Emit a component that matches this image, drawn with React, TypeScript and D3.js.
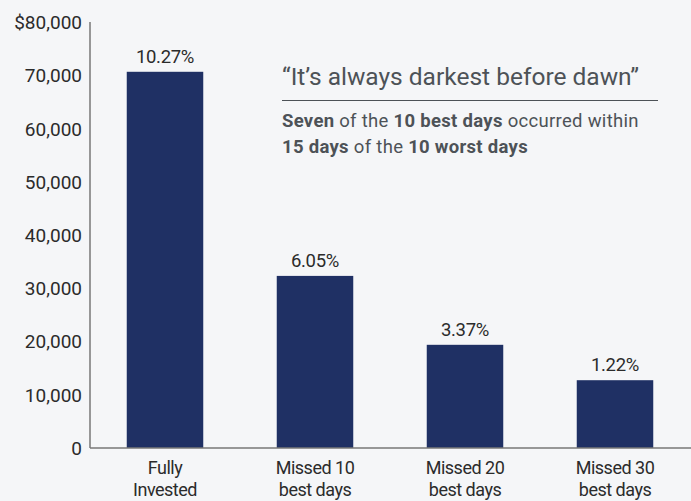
import React, { useEffect, useRef } from "react";
import * as d3 from "d3";

const categories = [["Fully", "Invested"], ["Missed 10", "best days"], ["Missed 20", "best days"], ["Missed 30", "best days"]];
const values = [70716, 32349, 19397, 12743];
const returns = ["10.27%", "6.05%", "3.37%", "1.22%"];
const yTicks = [0, 10000, 20000, 30000, 40000, 50000, 60000, 70000, 80000];
const title = "\u201CIt\u2019s always darkest before dawn\u201D";

const W = 691, H = 501;
const FONT = "Roboto, sans-serif";

export default function App() {
  const ref = useRef<SVGSVGElement>(null);
  useEffect(() => {
    const svg = d3.select(ref.current);
    svg.selectAll("*").remove();
    svg.append("rect").attr("width", W).attr("height", H).attr("fill", "#f5f6f8");
    const x = d3.scaleBand<number>().domain(d3.range(values.length)).range([90, 690]).paddingInner(0.49).paddingOuter(0.245);
    const y = d3.scaleLinear().domain([0, 80000]).range([448, 22.4]);
    const g = svg.append("g").style("font-family", FONT);

    g.selectAll("rect.bar").data(values).enter().append("rect")
      .attr("x", (_, i) => x(i)!).attr("width", x.bandwidth())
      .attr("y", d => y(d)).attr("height", d => y(0) - y(d)).attr("fill", "#1f3064");

    g.selectAll("text.ret").data(values).enter().append("text")
      .attr("x", (_, i) => x(i)! + x.bandwidth() / 2).attr("y", d => y(d) - 9)
      .attr("text-anchor", "middle").attr("font-size", 18.5).attr("fill", "#2b2b2b")
      .attr("letter-spacing", -0.3)
      .text((_, i) => returns[i]);

    g.selectAll("text.yt").data(yTicks).enter().append("text")
      .attr("x", 82).attr("y", d => y(d)).attr("dy", "0.36em")
      .attr("text-anchor", "end").attr("font-size", 19).attr("fill", "#2b2b2b")
      .text(d => (d === 80000 ? "$" : "") + d3.format(",")(d));

    g.append("line").attr("x1", 90).attr("x2", 90).attr("y1", 22).attr("y2", 448).attr("stroke", "#777").attr("stroke-width", 1.5);
    g.append("line").attr("x1", 90).attr("x2", 691).attr("y1", 448).attr("y2", 448).attr("stroke", "#777").attr("stroke-width", 1.5);

    categories.forEach((c, i) => {
      const t = g.append("text").attr("text-anchor", "middle").attr("font-size", 18)
        .attr("letter-spacing", -0.5).attr("fill", "#2b2b2b");
      c.forEach((line, j) => {
        t.append("tspan").attr("x", x(i)! + x.bandwidth() / 2).attr("y", 474 + j * 22).text(line);
      });
    });

    g.append("text").attr("x", 282).attr("y", 85).attr("font-size", 24.5).attr("fill", "#4d5257").text(title);
    g.append("line").attr("x1", 282).attr("x2", 658).attr("y1", 100.5).attr("y2", 100.5).attr("stroke", "#4d5257").attr("stroke-width", 1.2);
    const s1 = g.append("text").attr("x", 282).attr("y", 127).attr("font-size", 18.5).attr("letter-spacing", 0.3).attr("fill", "#4d5257");
    s1.append("tspan").attr("font-weight", "bold").text("Seven");
    s1.append("tspan").text(" of the ");
    s1.append("tspan").attr("font-weight", "bold").text("10 best days");
    s1.append("tspan").text(" occurred within");
    const s2 = g.append("text").attr("x", 282).attr("y", 153).attr("font-size", 18.5).attr("letter-spacing", 0.3).attr("fill", "#4d5257");
    s2.append("tspan").attr("font-weight", "bold").text("15 days");
    s2.append("tspan").text(" of the ");
    s2.append("tspan").attr("font-weight", "bold").text("10 worst days");
  }, []);
  return <svg ref={ref} width={W} height={H} style={{ position: "absolute", left: 0, top: 0 }} />;
}
